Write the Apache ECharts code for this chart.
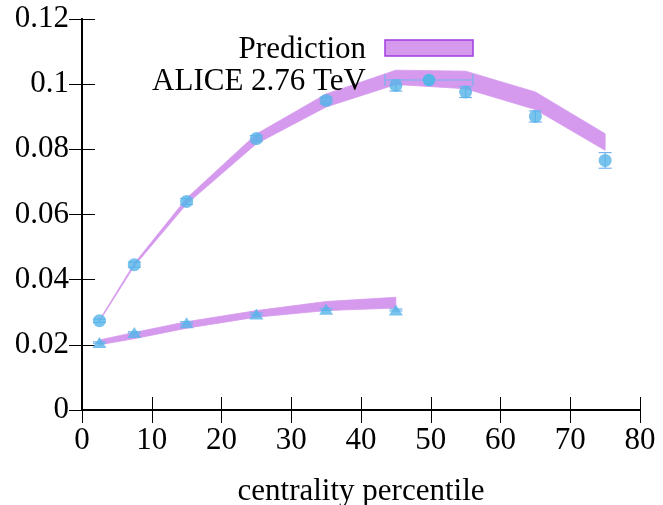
<!DOCTYPE html>
<html>
<head>
<meta charset="utf-8">
<script src="https://cdn.jsdelivr.net/npm/echarts@6/dist/echarts.min.js"></script>
<style>
  html, body { margin: 0; padding: 0; background: #fff; }
  #chart { width: 663px; height: 505px; }
</style>
</head>
<body>
<div id="chart"></div>
<script>
// Centrality bins (percentile) and measured values
const centrality = [2.5, 7.5, 15, 25, 35, 45, 55, 65, 75];
const aliceCircle = [0.0274, 0.0446, 0.0640, 0.0833, 0.0950, 0.0996, 0.0976, 0.0901, 0.0766];
const aliceCircleErr = [0.0005, 0.0008, 0.0009, 0.0009, 0.0010, 0.0017, 0.0017, 0.0017, 0.0024];

const centralityLow = [2.5, 7.5, 15, 25, 35, 45];
const aliceTriangle = [0.0207, 0.0238, 0.0268, 0.0295, 0.0309, 0.0307];
const aliceTriangleErr = [0.0002, 0.0002, 0.0003, 0.0003, 0.0003, 0.0003];

// Prediction bands (lower / upper edges)
const predUpperLo = [0.0272, 0.0442, 0.0632, 0.0817, 0.0930, 0.0999, 0.0986, 0.0922, 0.0797];
const predUpperHi = [0.0276, 0.0450, 0.0650, 0.0847, 0.0970, 0.1043, 0.1040, 0.0976, 0.0848];
const predLowerLo = [0.0200, 0.0219, 0.0251, 0.0285, 0.0305, 0.0313];
const predLowerHi = [0.0215, 0.0238, 0.0271, 0.0305, 0.0333, 0.0346];

const xTicks = [0, 10, 20, 30, 40, 50, 60, 70, 80];
const yTicks = [0, 0.02, 0.04, 0.06, 0.08, 0.1, 0.12];

const BAND = '#d59aee';
const BAND_EDGE = '#a33be0';
const POINT = '#56b4e9';
const ERR = '#74b4ec';
const FONT = '"Liberation Serif", "DejaVu Serif", serif';
const FS = 31;

function bandRows(xs, lo, hi) {
  return xs.map((x, i) => [x, lo[i], hi[i]]);
}

function bandSeries(name, xs, lo, hi) {
  return {
    type: 'custom',
    name: name,
    z: 1,
    clip: true,
    encode: { x: 0, y: [1, 2] },
    data: bandRows(xs, lo, hi),
    renderItem: function (params, api) {
      if (params.dataIndex !== 0) return null;
      const pts = [];
      for (let i = 0; i < xs.length; i++) pts.push(api.coord([xs[i], lo[i]]));
      for (let i = xs.length - 1; i >= 0; i--) pts.push(api.coord([xs[i], hi[i]]));
      return {
        type: 'polygon',
        shape: { points: pts },
        style: { fill: BAND, stroke: BAND, lineWidth: 0.8 }
      };
    }
  };
}

function errorSeries(xs, vals, errs) {
  return {
    type: 'custom',
    z: 2,
    encode: { x: 0, y: [1, 2] },
    data: xs.map((x, i) => [x, vals[i] - errs[i], vals[i] + errs[i]]),
    renderItem: function (params, api) {
      const lo = api.coord([api.value(0), api.value(1)]);
      const hi = api.coord([api.value(0), api.value(2)]);
      const w = 6.5;
      const st = { stroke: ERR, lineWidth: 1.2 };
      return {
        type: 'group',
        children: [
          { type: 'line', shape: { x1: lo[0], y1: lo[1], x2: hi[0], y2: hi[1] }, style: st },
          { type: 'line', shape: { x1: lo[0] - w, y1: lo[1], x2: lo[0] + w, y2: lo[1] }, style: st },
          { type: 'line', shape: { x1: hi[0] - w, y1: hi[1], x2: hi[0] + w, y2: hi[1] }, style: st }
        ]
      };
    }
  };
}

const chart = echarts.init(document.getElementById('chart'), null, { renderer: 'canvas' });

const axisTextStyle = { fontFamily: FONT, fontSize: FS, color: '#000' };
const tickStyle = { show: true, inside: true, length: 13, lineStyle: { color: '#000', width: 1 } };
const frameLine = { show: true, lineStyle: { color: '#000', width: 2 } };

const option = {
  animation: false,
  backgroundColor: '#fff',
  grid: { left: 82, top: 19, right: 23, bottom: 95, containLabel: false, outerBoundsMode: 'none' },
  xAxis: [
    {
      type: 'value', min: xTicks[0], max: xTicks[xTicks.length - 1], interval: 10,
      name: 'centrality percentile', nameLocation: 'middle', nameGap: 66,
      nameTextStyle: { fontFamily: FONT, fontSize: FS, color: '#000' },
      axisLine: frameLine, axisTick: tickStyle,
      axisLabel: Object.assign({ margin: 15 }, axisTextStyle),
      splitLine: { show: false }
    },
    {
      type: 'value', position: 'top', min: xTicks[0], max: xTicks[xTicks.length - 1], interval: 10,
      axisLine: frameLine, axisTick: tickStyle,
      axisLabel: { show: false }, splitLine: { show: false }
    }
  ],
  yAxis: [
    {
      type: 'value', min: yTicks[0], max: yTicks[yTicks.length - 1], interval: 0.02,
      axisLine: frameLine, axisTick: tickStyle,
      axisLabel: Object.assign({ margin: 13, formatter: v => String(+v.toFixed(2)) }, axisTextStyle),
      splitLine: { show: false }
    },
    {
      type: 'value', position: 'right', min: yTicks[0], max: yTicks[yTicks.length - 1], interval: 0.02,
      axisLine: frameLine, axisTick: tickStyle,
      axisLabel: { show: false }, splitLine: { show: false }
    }
  ],
  graphic: [
    // key: Prediction
    { type: 'text', x: 366, y: 50, z: 10,
      style: { text: 'Prediction', fontFamily: FONT, fontSize: FS, fill: '#000', align: 'right', verticalAlign: 'middle' } },
    { type: 'rect', shape: { x: 385, y: 40, width: 88, height: 16 }, style: { fill: BAND, stroke: BAND_EDGE, lineWidth: 1.5 }, z: 10 },
    // key: ALICE 2.76 TeV
    { type: 'text', x: 366, y: 82, z: 10,
      style: { text: 'ALICE 2.76 TeV', fontFamily: FONT, fontSize: FS, fill: '#000', align: 'right', verticalAlign: 'middle' } },
    { type: 'line', shape: { x1: 385, y1: 80, x2: 473, y2: 80 }, style: { stroke: ERR, lineWidth: 1.2 }, z: 10 },
    { type: 'line', shape: { x1: 385, y1: 74, x2: 385, y2: 86 }, style: { stroke: ERR, lineWidth: 1.2 }, z: 10 },
    { type: 'line', shape: { x1: 473, y1: 74, x2: 473, y2: 86 }, style: { stroke: ERR, lineWidth: 1.2 }, z: 10 },
    { type: 'circle', shape: { cx: 429, cy: 80, r: 6.3 }, style: { fill: POINT }, z: 10 }
  ],
  series: [
    bandSeries('Prediction', centrality, predUpperLo, predUpperHi),
    bandSeries('Prediction low', centralityLow, predLowerLo, predLowerHi),
    errorSeries(centrality, aliceCircle, aliceCircleErr),
    errorSeries(centralityLow, aliceTriangle, aliceTriangleErr),
    {
      type: 'scatter', name: 'ALICE 2.76 TeV', z: 3,
      symbol: 'circle', symbolSize: 13,
      itemStyle: { color: POINT },
      data: centrality.map((x, i) => [x, aliceCircle[i]])
    },
    {
      type: 'scatter', name: 'ALICE 2.76 TeV (triangles)', z: 3,
      symbol: 'triangle', symbolSize: [14, 11],
      itemStyle: { color: POINT },
      data: centralityLow.map((x, i) => [x, aliceTriangle[i]])
    }
  ]
};

chart.setOption(option);
</script>
</body>
</html>
